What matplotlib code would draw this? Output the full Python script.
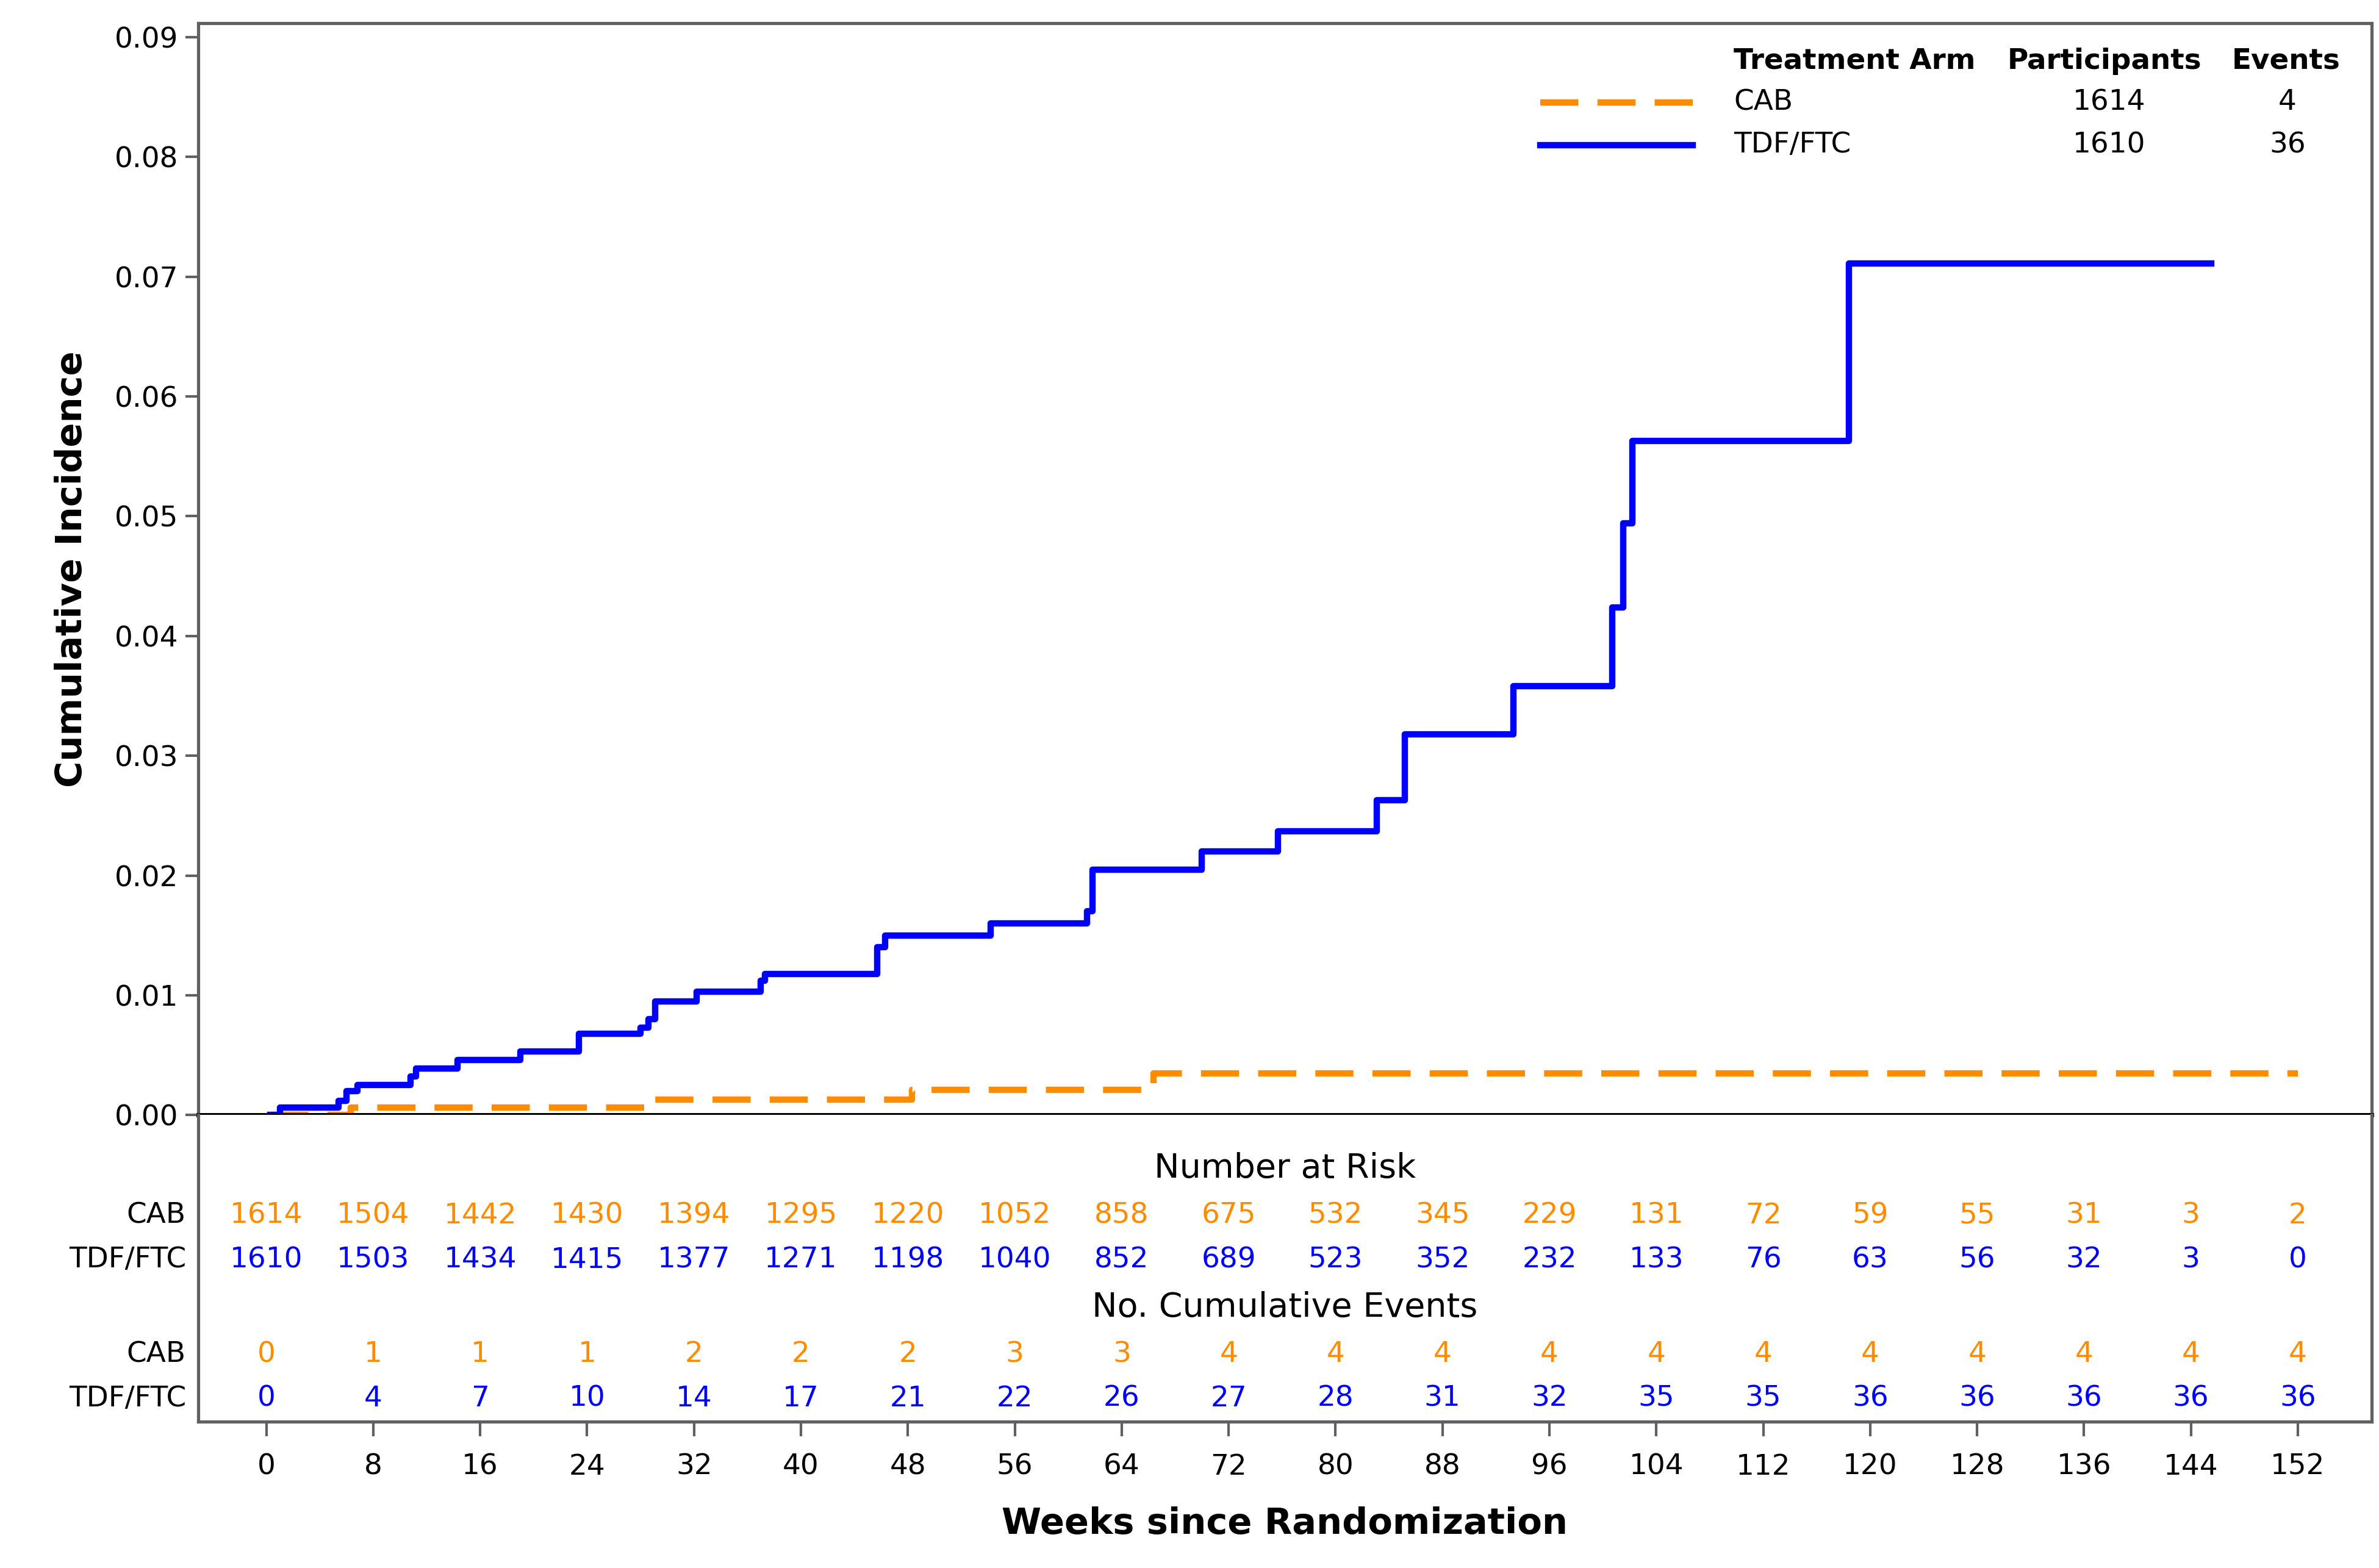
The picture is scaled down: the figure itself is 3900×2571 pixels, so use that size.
import matplotlib
matplotlib.use("Agg")
import matplotlib.pyplot as plt

plt.rcParams['font.family'] = ['DejaVu Sans']

# Data
tdf_t = [0.3, 1.0, 5.4, 6.0, 6.8, 10.8, 11.2, 14.3, 19.0, 23.4, 28.0, 28.6, 29.1, 32.2, 37.0, 37.3,
         45.7, 46.3, 54.2, 61.4, 61.8, 70.0, 75.7, 83.1, 85.2, 93.3, 100.7, 101.5, 102.2, 118.4, 145.5]
tdf_y = [0.0, 0.0006, 0.0012, 0.0020, 0.0025, 0.0032, 0.0039, 0.0046, 0.0053, 0.0068, 0.0073, 0.0080, 0.0095,
         0.0103, 0.0112, 0.0118, 0.0140, 0.0150, 0.0160, 0.0170, 0.0205, 0.0220, 0.0237, 0.0263, 0.0318,
         0.0358, 0.0424, 0.0494, 0.0563, 0.0711, 0.0711]
cab_t = [0.3, 6.3, 28.5, 48.3, 66.4, 152.0]
cab_y = [0.0, 0.0006, 0.0013, 0.0021, 0.0035, 0.0035]

weeks = [0, 8, 16, 24, 32, 40, 48, 56, 64, 72, 80, 88, 96, 104, 112, 120, 128, 136, 144, 152]
risk_cab = [1614, 1504, 1442, 1430, 1394, 1295, 1220, 1052, 858, 675, 532, 345, 229, 131, 72, 59, 55, 31, 3, 2]
risk_tdf = [1610, 1503, 1434, 1415, 1377, 1271, 1198, 1040, 852, 689, 523, 352, 232, 133, 76, 63, 56, 32, 3, 0]
ev_cab = [0, 1, 1, 1, 2, 2, 2, 3, 3, 4, 4, 4, 4, 4, 4, 4, 4, 4, 4, 4]
ev_tdf = [0, 4, 7, 10, 14, 17, 21, 22, 26, 27, 28, 31, 32, 35, 35, 36, 36, 36, 36, 36]
yticks = [0.00, 0.01, 0.02, 0.03, 0.04, 0.05, 0.06, 0.07, 0.08, 0.09]

ORANGE = '#FF8C00'
BLUE = '#0000FF'
GRAY = '#606060'

fig = plt.figure(figsize=(15.6, 10.284), dpi=250)
L, R = 0.0833, 0.9968
ax = fig.add_axes([L, 0.2889, R - L, 0.9854 - 0.2889])
axb = fig.add_axes([L, 0.0934, R - L, 0.2889 - 0.0934])
xlim = (-5.1, 157.5)

ax.step(cab_t, cab_y, where='post', color=ORANGE, lw=3, dashes=(6, 3))
ax.step(tdf_t, tdf_y, where='post', color=BLUE, lw=3)
ax.set_xlim(*xlim)
ax.set_ylim(0, 0.0912)
ax.set_yticks(yticks)
ax.set_yticklabels([f"{v:.2f}" for v in yticks], fontsize=13.5)
ax.set_xticks([])
ax.tick_params(axis='y', length=6, width=1.2, color=GRAY)
for s in ['top', 'right', 'left']:
    ax.spines[s].set_color(GRAY)
    ax.spines[s].set_linewidth(1.5)
ax.spines['bottom'].set_color('black')
ax.spines['bottom'].set_linewidth(2)
ax.set_ylabel('Cumulative Incidence', fontsize=17, fontweight='bold', labelpad=12)

# Legend
tr = ax.transAxes
def fx(px):
    return (px / 1560 - L) / (R - L)
def fy(py):
    return (731 - py) / (731 - 15)
ax.text(fx(1137), fy(40), 'Treatment Arm', transform=tr, fontsize=13.5, fontweight='bold', va='center', ha='left')
ax.text(fx(1380), fy(40), 'Participants', transform=tr, fontsize=13.5, fontweight='bold', va='center', ha='center')
ax.text(fx(1499), fy(40), 'Events', transform=tr, fontsize=13.5, fontweight='bold', va='center', ha='center')
ax.plot([fx(1010), fx(1110)], [fy(67), fy(67)], transform=tr, color=ORANGE, lw=3, dashes=(6, 3))
ax.plot([fx(1010), fx(1110)], [fy(95), fy(95)], transform=tr, color=BLUE, lw=3)
for lab, n, e, py in [('CAB', 1614, 4, 67), ('TDF/FTC', 1610, 36, 95)]:
    ax.text(fx(1137), fy(py), lab, transform=tr, fontsize=13.5, va='center', ha='left')
    ax.text(fx(1383), fy(py), str(n), transform=tr, fontsize=13.5, va='center', ha='center')
    ax.text(fx(1500), fy(py), str(e), transform=tr, fontsize=13.5, va='center', ha='center')

# Bottom table axes
axb.set_xlim(*xlim)
axb.set_ylim(0, 1)
axb.set_yticks([])
axb.set_xticks(weeks)
axb.set_xticklabels([str(w) for w in weeks], fontsize=13.5)
axb.tick_params(axis='x', length=7, width=1.2, color=GRAY, pad=8)
axb.spines['top'].set_visible(False)
for s in ['bottom', 'right', 'left']:
    axb.spines[s].set_color(GRAY)
    axb.spines[s].set_linewidth(1.5)
axb.set_xlabel('Weeks since Randomization', fontsize=17, fontweight='bold', labelpad=12)

def by(py):
    return (932 - py) / (932 - 731)
xc = 1 - (-5.1) / (157.5 + 5.1)
mid = (fx(1560 * L) + 1) / 2
axb.text(0.5, by(766), 'Number at Risk', transform=axb.transAxes, fontsize=16, ha='center', va='center')
axb.text(0.5, by(857), 'No. Cumulative Events', transform=axb.transAxes, fontsize=16, ha='center', va='center')
rows = [(797, 'CAB', risk_cab, ORANGE), (826, 'TDF/FTC', risk_tdf, BLUE),
        (888, 'CAB', ev_cab, ORANGE), (917, 'TDF/FTC', ev_tdf, BLUE)]
for py, lab, vals, col in rows:
    fig.text(122 / 1560, (1028 - py) / 1028, lab, fontsize=13.5, ha='right', va='center')
    for w, v in zip(weeks, vals):
        axb.text(w, by(py), str(v), fontsize=13.5, color=col, ha='center', va='center')

fig.savefig('out.png', dpi=250)
